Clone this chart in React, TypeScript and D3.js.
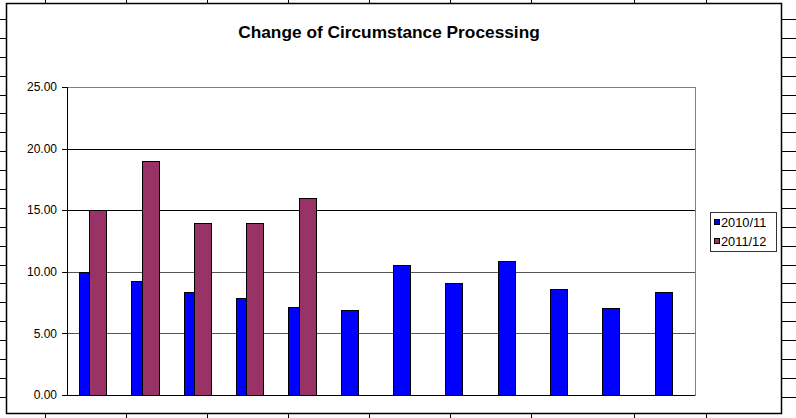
import React from "react";
import * as d3 from "d3";

const categories = ["Apr", "May", "Jun", "Jul", "Aug", "Sep", "Oct", "Nov", "Dec", "Jan", "Feb", "Mar"];
const series2010 = [9.95, 9.25, 8.4, 7.87, 7.14, 6.87, 10.52, 9.09, 10.85, 8.63, 7.06, 8.36];
const series2011: (number | null)[] = [15, 19, 14, 14, 16, null, null, null, null, null, null, null];
const seriesNames = ["2010/11", "2011/12"];
const seriesColors = ["#0000FF", "#993366"];
const yTicks = [0, 5, 10, 15, 20, 25];
const title = "Change of Circumstance Processing";

const W = 796;
const H = 418;
const sheetRows = d3.range(0, 21).map((i) => 19 + i * 18.885);
const sheetCols = [45, 126, 207, 288, 369, 450, 531, 634, 706];

export default function App() {
  const left = 67, right = 695, top = 87, bottom = 395;
  const x = d3.scaleBand<string>().domain(categories).range([left, right]).padding(0);
  const y = d3.scaleLinear().domain([0, 25]).range([bottom, top]);
  const bw = x.bandwidth();
  const barW = bw * 0.32;
  const offs = [0.23, 0.425];
  const font = "'Liberation Sans', Arial, sans-serif";
  const r = (v: number) => Math.round(v) + 0.5;

  return (
    <svg width={W} height={H} style={{ position: "absolute", left: 0, top: 0, background: "#fff" }} fontFamily={font}>
      <rect x={0} y={0} width={W} height={H} fill="#fff" />
      {/* sheet grid fragments */}
      {sheetRows.map((ry, i) => (
        <g key={"r" + i}>
          <line x1={0} x2={6} y1={r(ry)} y2={r(ry)} stroke="#000" />
          <line x1={782} x2={W} y1={r(ry)} y2={r(ry)} stroke="#000" />
        </g>
      ))}
      {sheetCols.map((cx, i) => (
        <g key={"c" + i}>
          <line x1={r(cx)} x2={r(cx)} y1={0} y2={3} stroke="#000" />
          <line x1={r(cx)} x2={r(cx)} y1={414} y2={H} stroke="#000" />
        </g>
      ))}
      {/* chart area */}
      <rect x={6.5} y={3.5} width={775} height={410} fill="#fff" stroke="#000" strokeWidth={1.5} />
      <text x={389} y={37.5} textAnchor="middle" fontWeight="bold" fontSize={17.3} fill="#000">
        {title}
      </text>
      {/* plot area */}
      <rect x={left + 0.5} y={top + 0.5} width={right - left} height={bottom - top} fill="#fff" stroke="#808080" />
      {yTicks.filter((t) => t > 0 && t < 25).map((t) => (
        <line key={t} x1={left} x2={right} y1={r(y(t))} y2={r(y(t))} stroke={t >= 15 ? "#000" : "#555"} />
      ))}
      {/* bars */}
      {categories.map((c, i) => {
        const vals = [series2010[i], series2011[i]];
        return (
          <g key={c}>
            {vals.map((v, s) =>
              v == null ? null : (
                <rect
                  key={s}
                  x={r((x(c) as number) + bw * offs[s])}
                  y={r(y(v))}
                  width={Math.round(barW)}
                  height={Math.round(y(0)) - Math.round(y(v))}
                  fill={seriesColors[s]}
                  stroke="#000"
                  strokeWidth={1}
                />
              )
            )}
          </g>
        );
      })}
      {/* axes */}
      <line x1={r(left)} x2={r(left)} y1={top} y2={bottom + 1} stroke="#000" />
      <line x1={left} x2={right} y1={r(bottom)} y2={r(bottom)} stroke="#000" />
      {yTicks.map((t) => (
        <g key={"t" + t}>
          <line x1={62} x2={left} y1={r(y(t))} y2={r(y(t))} stroke="#000" />
          <text x={57} y={y(t) + 4.2} textAnchor="end" fontSize={12} fill="#000">
            {d3.format(".2f")(t)}
          </text>
        </g>
      ))}
      {/* legend */}
      <rect x={710.5} y={212.5} width={66} height={39} fill="#fff" stroke="#333" />
      {seriesNames.map((n, s) => (
        <g key={n}>
          <rect x={714.5} y={219.5 + s * 19} width={5} height={5} fill={seriesColors[s]} stroke="#000" />
          <text x={721} y={226.5 + s * 19} fontSize={12.8} fill="#000">
            {n}
          </text>
        </g>
      ))}
    </svg>
  );
}
